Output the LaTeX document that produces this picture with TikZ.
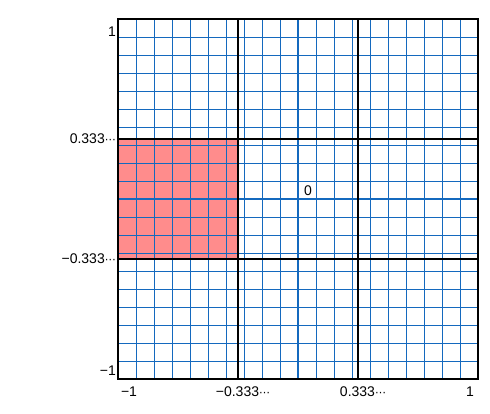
\documentclass[tikz,border=0pt]{standalone}
\usepackage{fontspec}
\setmainfont{Liberation Sans}
\newfontfamily\dvfont{DejaVu Sans}
\definecolor{gridblue}{RGB}{20,105,190}
\definecolor{pinkfill}{RGB}{255,140,140}
\newcommand{\mydots}{{\dvfont\fontsize{11}{11}\selectfont ⋯}}
\tikzset{
  minorline/.style={gridblue, line width=0.9pt},
  zeroline/.style={gridblue, line width=1.8pt},
  majorline/.style={black, line width=2.8pt},
  framebox/.style={black, line width=2.8pt},
  lbl/.style={font=\fontsize{14}{14}\selectfont, inner sep=0pt},
}
\begin{document}
\begin{tikzpicture}[x=1pt,y=1pt]
\useasboundingbox (0,0) rectangle (490,413);
% pink region
\fill[pinkfill] (118,154) rectangle (238,274);
% minor grid
\foreach \i in {1,...,19}{
  \draw[minorline] (118+18*\i,34) -- (118+18*\i,394);
  \draw[minorline] (118,34+18*\i) -- (478,34+18*\i);
}
% zero lines
\draw[zeroline] (298,34) -- (298,394);
\draw[zeroline] (118,214) -- (478,214);
% thirds
\draw[majorline] (238,34) -- (238,394);
\draw[majorline] (358,34) -- (358,394);
\draw[majorline] (118,154) -- (478,154);
\draw[majorline] (118,274) -- (478,274);
% frame
\draw[framebox] (118,34) rectangle (478,394);
% labels
\node[lbl, anchor=east] (yone) at (116,381) {1};
\node[lbl, anchor=east] (ythird) at (116,274) {0.333\mydots};
\node[lbl, anchor=east] (ymthird) at (116,154) {−0.333\mydots};
\node[lbl, anchor=east] (ymone) at (116,42) {−1};
\node[lbl] (xmone) at (129,21) {−1};
\node[lbl] (xmthird) at (243,21) {−0.333\mydots};
\node[lbl] (xthird) at (363,21) {0.333\mydots};
\node[lbl] (xone) at (470,21) {1};
\node[lbl] (zero) at (308,222) {0};
\end{tikzpicture}
\end{document}
